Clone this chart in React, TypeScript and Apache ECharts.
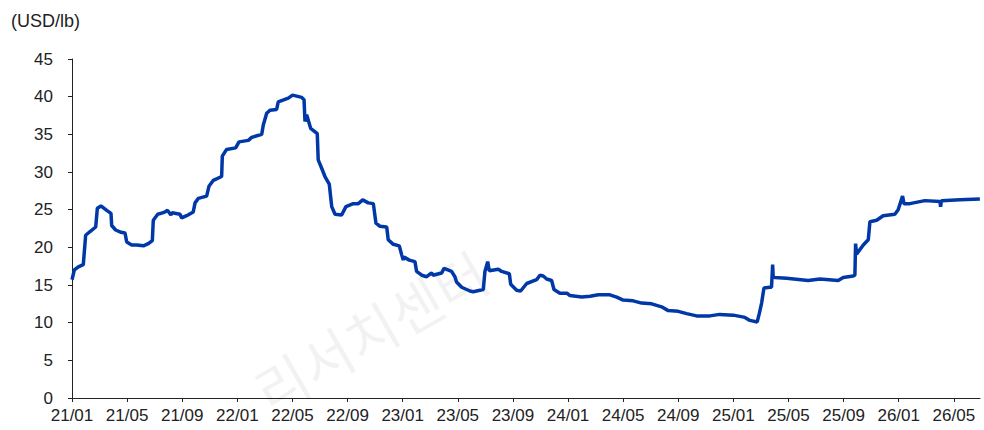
import React, { useEffect, useRef } from "react";
import * as echarts from "echarts";

// x = months since 2021/01 (fractional), y = price in USD/lb
const monthIdx: number[] = [
  0, 0.17, 0.46, 0.82, 0.99, 1.31, 1.72, 1.84, 2.1, 2.52, 2.83, 2.88, 3.17, 3.56, 3.85, 3.97,
  4.33, 4.69, 5.18, 5.54, 5.83, 5.9, 6.22, 6.63, 6.94, 7.18, 7.26, 7.84, 7.96, 8.32, 8.8, 8.93,
  9.17, 9.77, 9.94, 10.26, 10.86, 10.91, 11.22, 11.88, 12.12, 12.8, 13.04, 13.77, 13.88, 14.13,
  14.37, 14.85, 14.97, 15.7, 16.01, 16.67, 16.84, 16.91, 17.03, 17.32, 17.8, 17.87, 18.12, 18.36,
  18.67, 18.85, 19.09, 19.57, 19.88, 20.41, 20.78, 21.1, 21.5, 21.87, 22.06, 22.35, 22.84, 22.95,
  23.32, 23.75, 23.93, 24.04, 24.1, 24.48, 24.89, 25.01, 25.38, 25.74, 26.1, 26.2, 26.83, 27.0,
  27.55, 27.79, 27.91, 28.28, 28.88, 29.12, 29.85, 29.97, 30.17, 30.28, 30.94, 31.18, 31.74,
  31.84, 32.27, 32.56, 33.0, 33.72, 33.96, 34.2, 34.45, 34.81, 34.98, 35.41, 35.94, 36.14, 36.99,
  37.6, 38.2, 39.04, 39.53, 40.0, 40.73, 41.34, 42.07, 42.79, 43.27, 44.0, 44.61, 45.33, 46.3,
  47.0, 48.0, 48.84, 49.2, 49.73, 49.88, 50.05, 50.22, 50.65, 50.77, 50.85, 50.89, 51.0, 51.86,
  53.43, 54.28, 55.61, 55.97, 56.7, 56.82, 56.87, 56.94, 57.43, 57.79, 57.91, 58.4, 58.87, 59.72,
  59.96, 60.28, 60.38, 60.81, 61.9, 62.99, 63.04, 63.1, 64.44, 65.89,
];

const prices: number[] = [
  15.7, 17.0, 17.4, 17.7, 21.6, 22.1, 22.7, 25.2, 25.5, 24.9, 24.5, 22.9, 22.3, 22.0, 21.9, 20.7,
  20.3, 20.3, 20.2, 20.5, 20.9, 23.6, 24.4, 24.6, 24.9, 24.3, 24.6, 24.4, 23.9, 24.2, 24.7, 25.9,
  26.5, 26.8, 28.1, 28.9, 29.4, 32.1, 33.0, 33.2, 34.0, 34.2, 34.6, 35.0, 36.2, 37.8,
  38.2, 38.3, 39.3, 39.8, 40.2, 39.9, 39.6, 36.7, 37.6, 35.8, 35.1, 31.6, 30.5, 29.4,
  28.4, 25.4, 24.4, 24.3, 25.4, 25.8, 25.8, 26.3, 25.9, 25.8, 23.2, 22.8, 22.7, 21.0,
  20.4, 20.2, 19.0, 18.3, 18.7, 18.3, 18.1, 16.8, 16.3, 16.1, 16.6, 16.3, 16.6, 17.2,
  16.8, 16.1, 15.4, 14.7, 14.2, 14.1, 14.4, 16.8, 18.1, 16.9, 17.1, 16.8, 16.5,
  15.1, 14.3, 14.2, 15.2, 15.7, 16.3, 16.2, 15.8, 15.6, 14.4, 13.9, 13.9, 13.6, 13.4,
  13.5, 13.7, 13.7, 13.4, 13.0, 12.9, 12.6, 12.5, 12.1, 11.6, 11.5, 11.2, 10.9, 10.9,
  11.1, 11.0, 10.7, 10.3, 10.1, 11.2, 12.6, 14.6, 14.7, 14.7, 17.7, 16.1, 16.0, 15.9,
  15.6, 15.8, 15.6, 16.0, 16.2, 16.3, 20.5, 19.1, 20.3, 21.0, 23.4, 23.6, 24.2, 24.4,
  25.0, 26.8, 25.8, 25.8, 26.2, 26.1, 25.4, 26.2, 26.3, 26.4,
];

const tickMonths: number[] = [0, 4, 8, 12, 16, 20, 24, 28, 32, 36, 40, 44, 48, 52, 56, 60, 64];
const unitLabel = "(USD/lb)";
const watermark = "리서치센터";

const FONT = "'Liberation Sans', Arial, sans-serif";

function monthLabel(v: number): string {
  const m = Math.round(v);
  const yy = 21 + Math.floor(m / 12);
  const mm = (m % 12) + 1;
  return `${yy}/${mm < 10 ? "0" + mm : mm}`;
}

export default function App() {
  const ref = useRef<HTMLDivElement>(null);

  useEffect(() => {
    if (!ref.current) return;
    const chart = echarts.init(ref.current, undefined, { renderer: "svg" });
    const data = monthIdx.map((m, i) => [m, prices[i]]);
    chart.setOption({
      animation: false,
      backgroundColor: "#ffffff",
      grid: { left: 72, right: 4, top: 59, bottom: 32, containLabel: false },
      graphic: [
        {
          type: "text",
          x: 370,
          y: 330,
          rotation: Math.PI / 6,
          z: -10,
          style: {
            text: watermark,
            fontSize: 56,
            fontFamily: "'Noto Sans CJK KR', sans-serif",
            fill: "rgba(0,0,0,0.05)",
            align: "center",
            verticalAlign: "middle",
          },
        },
        {
          type: "text",
          left: 11,
          top: 12,
          style: {
            text: unitLabel,
            fontSize: 18,
            fontFamily: FONT,
            fill: "#222",
          },
        },
      ],
      xAxis: {
        type: "value",
        min: 0,
        max: 65.9,
        interval: 4,
        splitLine: { show: false },
        axisLine: { show: true, lineStyle: { color: "#222", width: 1 } },
        axisTick: { show: true, length: 4, customValues: tickMonths, lineStyle: { color: "#222" } },
        axisLabel: {
          customValues: tickMonths,
          formatter: (v: number) => monthLabel(v),
          fontSize: 17,
          fontFamily: FONT,
          color: "#222",
          margin: 9,
        },
      },
      yAxis: {
        type: "value",
        min: 0,
        max: 45,
        interval: 5,
        splitLine: { show: false },
        axisLine: { show: true, lineStyle: { color: "#222", width: 1 } },
        axisTick: { show: true, length: 4, lineStyle: { color: "#222" } },
        axisLabel: {
          fontSize: 17,
          fontFamily: FONT,
          color: "#222",
          margin: 19,
        },
      },
      series: [
        {
          type: "line",
          data,
          showSymbol: false,
          symbol: "none",
          lineStyle: { color: "#0038a8", width: 3.5 },
          z: 5,
        },
      ],
    });
    return () => chart.dispose();
  }, []);

  return (
    <div
      ref={ref}
      style={{ position: "fixed", left: 0, top: 0, width: 984, height: 430 }}
    />
  );
}
